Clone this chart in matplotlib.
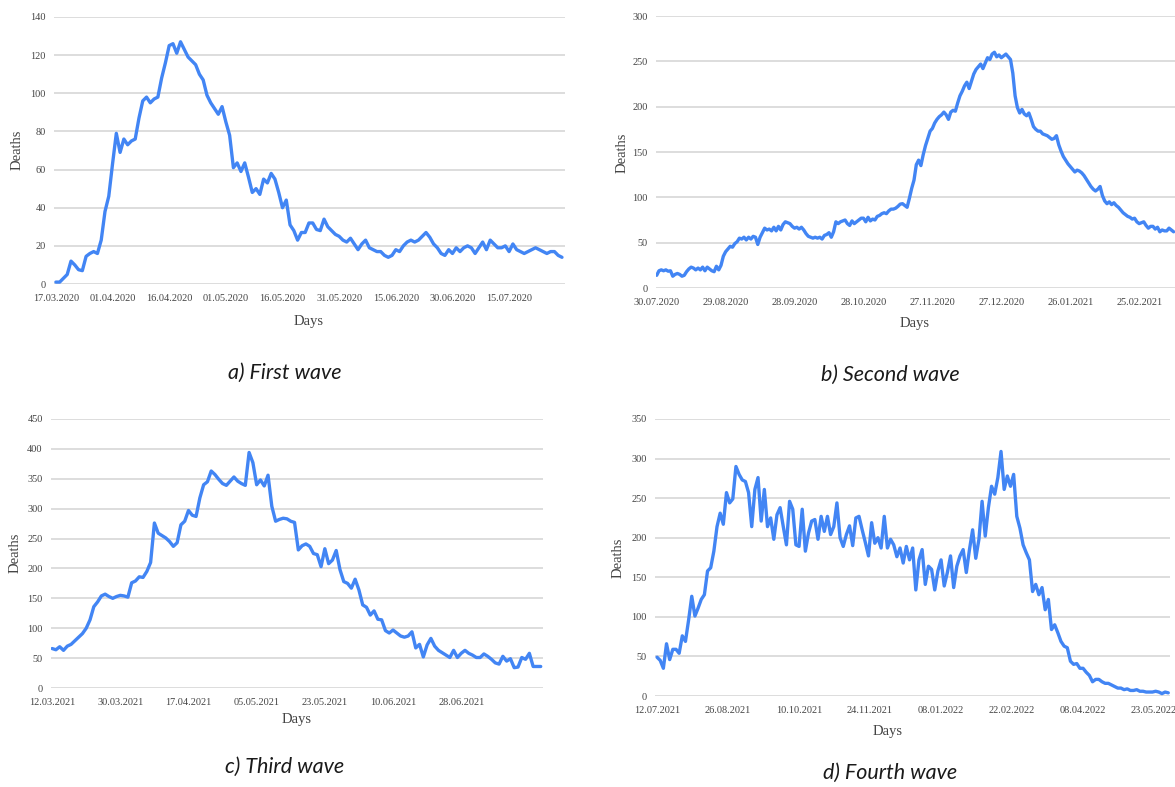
import matplotlib
matplotlib.use('Agg')
import matplotlib.pyplot as plt
import matplotlib.dates as mdates
import pandas as pd

# ---------------- data ----------------
wave1_start = '2020-03-17'
wave1 = [1, 1, 3, 5, 12, 10, 7.5, 7, 14.5, 16, 17, 16, 23, 38, 46, 63, 79, 69, 76, 73,
         75, 76, 87, 96, 98, 95, 97, 98, 108, 116, 125, 126, 121, 127, 123, 119, 117, 115, 110, 107,
         99, 95, 92, 89, 93, 85, 78, 61, 63.5, 59, 63.5, 56, 48, 50, 47, 55, 53, 58, 55, 48,
         40, 44, 31, 28, 23, 27, 27, 32, 32, 28.6, 28, 34, 30, 28, 26, 25, 23, 22, 24, 21,
         18, 21, 23, 19, 18, 17, 17, 15, 14, 15, 18, 17, 20, 22, 23, 22, 23, 25, 27, 24.5,
         21, 19, 16, 15, 18, 16, 19, 17, 19, 20, 19, 16, 19, 22, 18, 23, 21, 19, 19, 20,
         17, 21, 18, 17, 16, 17, 18, 19, 18, 17, 16, 17, 17, 15, 14]

wave2_start = '2020-07-30'
wave2 = [14, 19, 20, 19, 20, 18.5, 19, 13, 15, 16, 15, 13, 14, 18, 21, 23, 22, 20, 22, 20,
         23, 19, 23, 21, 19, 18, 24, 20, 25, 35, 40, 43, 46, 45, 49, 51, 55, 54, 56, 53,
         56, 54, 57, 56, 48, 56, 61, 66, 64, 65, 63, 67, 63, 68, 64, 70, 73, 72, 71, 68,
         66, 67, 65, 67, 64, 60, 57, 56, 55, 56, 55, 56, 54, 58, 59, 61, 56, 62, 73, 71,
         73, 74, 75, 71, 69, 74, 71, 73, 75, 77, 77, 73, 78, 74, 76, 75, 79, 80, 82, 83,
         82, 85, 87, 87, 88, 90, 92.5, 93, 91, 89, 99, 110, 119, 136, 141, 135, 147, 157, 165, 173,
         176, 182, 186, 189, 191, 194, 191, 186, 194, 196, 195, 204, 212, 217, 223, 227, 220, 228, 236, 241,
         244, 247, 242, 248, 254, 252, 258, 260, 255, 257, 254, 256, 258, 255, 252, 237, 212, 199, 193, 197,
         192, 190, 193, 186, 178, 175, 173, 173, 170, 169, 168, 166, 164, 165, 168, 158, 151, 145, 141, 137,
         134, 131, 128, 130, 129, 127, 124, 120, 116, 112, 109, 107, 109, 112, 102, 96, 93, 95, 92, 94,
         91, 89, 86, 83, 81, 79, 78, 76, 77, 73, 71, 72, 73, 69, 66, 68, 68, 65, 67, 62,
         64, 63, 63, 66, 64, 62]

wave3_start = '2021-03-12'
wave3 = [66, 64, 69, 63, 70, 73, 79, 85, 91, 100, 114, 136, 144, 154, 157, 153, 150, 153, 155, 154,
         152, 176, 179, 186, 185, 195, 210, 276, 259, 255, 251, 245, 237, 243, 273, 279, 297, 289, 287, 318,
         340, 345, 363, 357, 349, 342, 339, 346, 353, 346, 342, 339, 394, 377, 340, 348, 338, 356, 304, 279,
         282, 284, 283, 279, 277, 231, 238, 241, 237, 225, 223, 203, 233, 208, 214, 230, 198, 178, 175, 167,
         182, 164, 139, 135, 122, 129, 115, 114, 96, 92, 97, 92, 87, 85, 87, 94, 67, 73, 52, 72,
         83, 70, 63, 59, 55, 51, 63, 51, 58, 63, 58, 55, 51, 51, 57, 53, 48, 42, 40, 53,
         45, 49, 34, 35, 51, 48, 58, 36, 36, 36]

wave4_start = '2021-07-12'   # sampled every second day
wave4 = [49, 45, 35, 66, 46, 59, 59, 54, 76, 69, 96, 126, 101, 111, 122, 128, 158, 162, 183, 214,
         231, 217, 257, 244, 249, 290, 280, 273, 271, 257, 214, 261, 276, 221, 261, 214, 225, 198, 229, 238,
         214, 191, 246, 236, 191, 189, 236, 183, 206, 221, 223, 198, 227, 208, 227, 204, 214, 244, 200, 189,
         204, 215, 190, 225, 227, 210, 194, 177, 219, 193, 200, 187, 227, 187, 198, 191, 176, 187, 168, 189,
         172, 187, 134, 172, 185, 141, 164, 160, 134, 158, 172, 139, 156, 177, 137, 164, 177, 185, 156, 185,
         210, 174, 198, 246, 202, 238, 265, 255, 276, 309, 261, 278, 265, 280, 227, 212, 191, 181, 172, 132,
         141, 128, 137, 109, 122, 84, 90, 80, 69, 63, 61, 44, 40, 41, 35, 35, 30, 26, 18, 21,
         21, 18, 16, 16, 14, 12, 10, 10, 8, 9, 7, 7, 8, 6, 6, 5, 5, 5, 6, 5,
         3, 5, 4]

captions = ['a) First wave', 'b) Second wave', 'c) Third wave', 'd) Fourth wave']

# ---------------- style ----------------
BLUE = '#4285F4'
GRID = '#d3d3d3'
TXT = '#444444'
SERIF = ['Liberation Serif', 'DejaVu Serif']

fig = plt.figure(figsize=(11.75, 7.87), dpi=100)
W, H = 1175, 787


def add_ax(l, r, t, b):
    return fig.add_axes([l / W, 1 - b / H, (r - l) / W, (b - t) / H])


panels = [
    dict(v=wave1, s=wave1_start, step=1, px=(54, 565, 17, 284), xl=(-0.5, 134.8), ymax=140, ys=20, ts=15, nt=9,
         ylab=(17, 150), xlab=(309, 321), cap=(285, 373)),
    dict(v=wave2, s=wave2_start, step=1, px=(656, 1175, 16, 288), xl=(-0.3, 225.6), ymax=300, ys=50, ts=30, nt=8,
         ylab=(622, 153), xlab=(915, 323), cap=(890, 375)),
    dict(v=wave3, s=wave3_start, step=1, px=(51, 543, 419, 688), xl=(-0.3, 129.6), ymax=450, ys=50, ts=18, nt=7,
         ylab=(15, 553), xlab=(297, 720), cap=(285, 767)),
    dict(v=wave4, s=wave4_start, step=2, px=(655, 1170, 419, 696), xl=(-1.3, 325.1), ymax=350, ys=50, ts=45, nt=8,
         ylab=(618, 558), xlab=(888, 731), cap=(890, 773)),
]

for p, cap in zip(panels, captions):
    ax = add_ax(*p['px'])
    dates = pd.date_range(p['s'], periods=len(p['v']), freq=f"{p['step']}D")
    x = mdates.date2num(dates.to_pydatetime())
    ax.plot(x, p['v'], color=BLUE, lw=2.4, solid_joinstyle='round', solid_capstyle='round', zorder=3)
    x0 = mdates.date2num(pd.Timestamp(p['s']).to_pydatetime())
    ax.set_xlim(x0 + p['xl'][0], x0 + p['xl'][1])
    ax.set_ylim(0, p['ymax'])
    ax.set_yticks(range(0, p['ymax'] + 1, p['ys']))
    ticks = pd.date_range(p['s'], periods=p['nt'], freq=f"{p['ts']}D")
    ax.set_xticks(mdates.date2num(ticks.to_pydatetime()))
    ax.set_xticklabels([t.strftime('%d.%m.%Y') for t in ticks])
    ax.grid(axis='y', color=GRID, lw=1.1, zorder=0)
    ax.grid(axis='x', visible=False)
    for s in ax.spines.values():
        s.set_visible(False)
    ax.tick_params(length=0, colors=TXT, labelsize=7.4, pad=6)
    ax.tick_params(axis='x', pad=7)
    for lab in ax.get_xticklabels() + ax.get_yticklabels():
        lab.set_family(SERIF)
    ax.set_facecolor('none')
    fig.text(p['ylab'][0] / W, 1 - p['ylab'][1] / H, 'Deaths', rotation=90, ha='center', va='center',
             family=SERIF, fontsize=10.5, color=TXT)
    fig.text(p['xlab'][0] / W, 1 - p['xlab'][1] / H, 'Days', ha='center', va='center',
             family=SERIF, fontsize=10.5, color=TXT)
    fig.text(p['cap'][0] / W, 1 - p['cap'][1] / H, cap, ha='center', va='center',
             family=['Lato', 'DejaVu Sans'], style='italic', fontsize=15.5, color='#1a1a1a')

fig.savefig('out.png', dpi=100, facecolor='white')
